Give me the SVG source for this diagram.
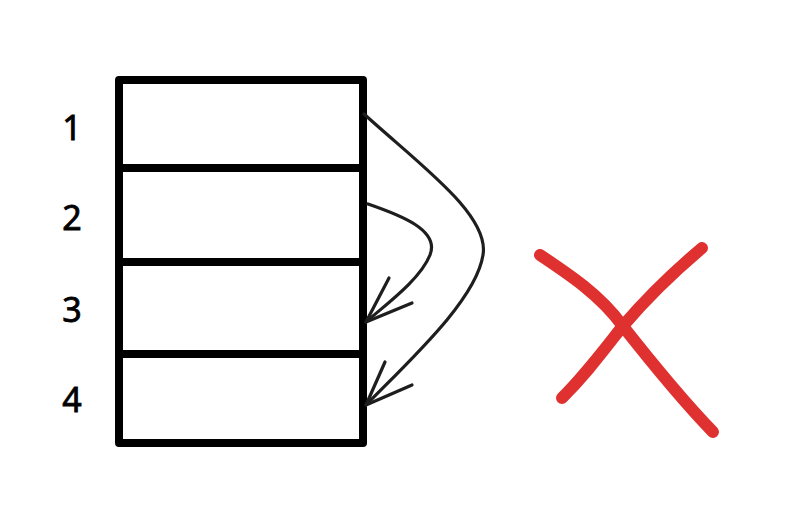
<svg xmlns="http://www.w3.org/2000/svg" width="810" height="530" viewBox="0 0 810 530">
<style>
.box{fill:none;stroke:#000;stroke-width:8;stroke-linejoin:round;stroke-linecap:round}
.lbl{font-family:"Comic Sans MS","Noto Sans",sans-serif;font-size:34px;fill:#000;stroke:#000;stroke-width:0.8;text-anchor:middle}
.arr{fill:none;stroke:#1e1e1e;stroke-width:3.2;stroke-linecap:round;stroke-linejoin:round}
.x{fill:none;stroke:#e03131;stroke-width:12;stroke-linecap:round}
</style>
<rect width="810" height="530" fill="#fff"/>
<g id="row1"><path class="box" d="M119 80 L363 80 L363 168 L119 168 Z"/><text class="lbl" x="72" y="140">1</text></g>
<g id="row2"><path class="box" d="M119 168 L363 168 L363 262 L119 262 Z"/><text class="lbl" x="72" y="230">2</text></g>
<g id="row3"><path class="box" d="M119 262 L363 262 L363 354 L119 354 Z"/><text class="lbl" x="72" y="322">3</text></g>
<g id="row4"><path class="box" d="M119 354 L363 354 L363 443 L119 443 Z"/><text class="lbl" x="72" y="412">4</text></g>
<g id="connectors">
<path class="arr" d="M364 114 C420 165 490 215 483 255 C476 300 410 360 366 405"/>
<path class="arr" d="M385 362 L366 405 L412 385"/>
<path class="arr" d="M368 204 C400 215 440 230 430 255 C420 280 385 305 366 322"/>
<path class="arr" d="M389 278 L366 322 L412 303"/>
</g>
<g id="cross">
<path class="x" d="M540 255 C570 275 600 295 622 325 C648 358 680 398 713 432"/>
<path class="x" d="M702 248 C670 275 645 300 622 327 C600 355 585 375 562 398"/>
</g>
</svg>
